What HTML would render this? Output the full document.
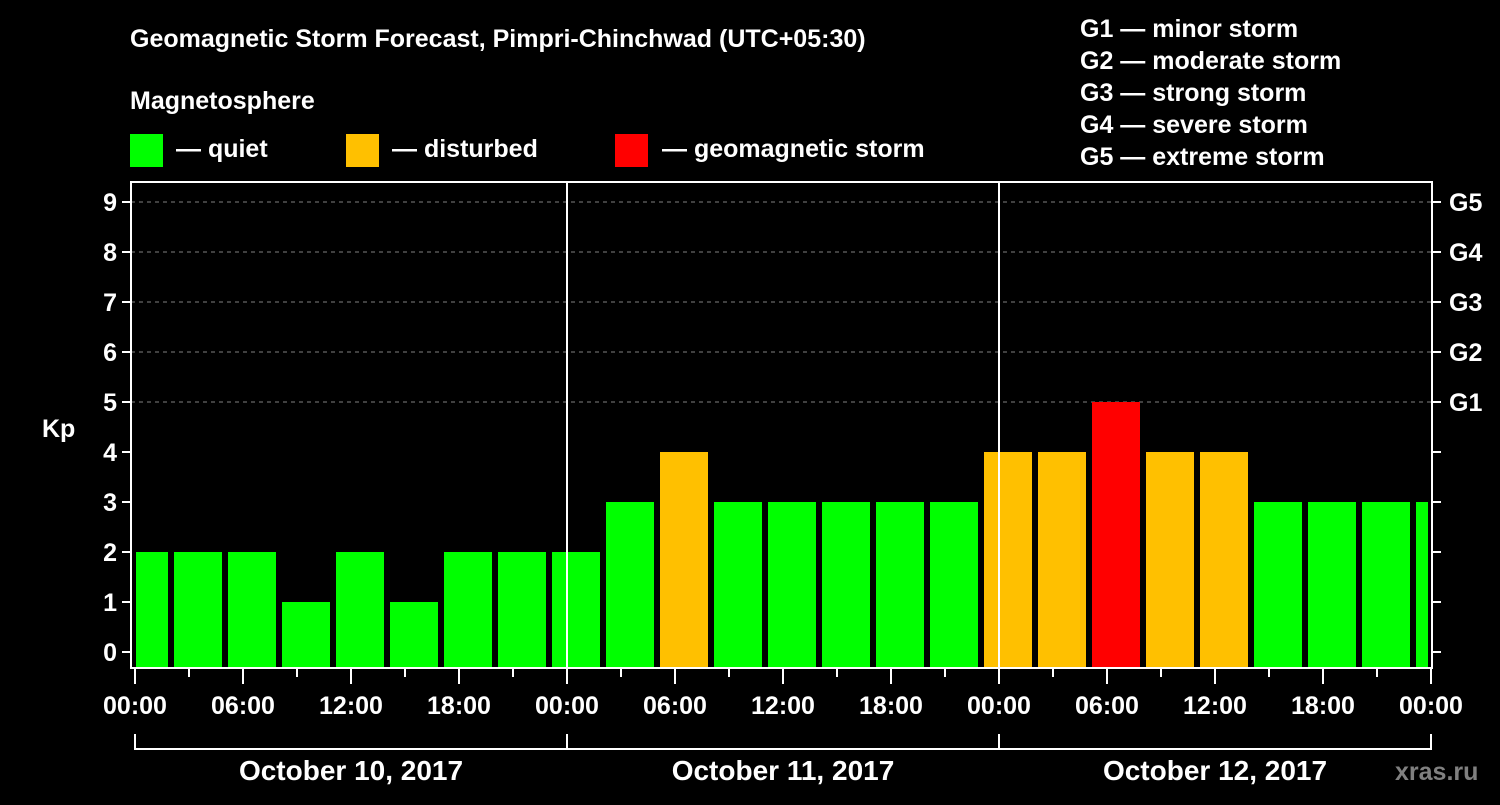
<!DOCTYPE html>
<html><head><meta charset="utf-8"><style>
body{margin:0;background:#000;width:1500px;height:800px;overflow:hidden}
svg{font-family:"Liberation Sans",Arial,sans-serif;font-weight:bold}
</style></head><body>
<svg id="c" width="1500" height="800" xmlns="http://www.w3.org/2000/svg">
<rect width="1500" height="800" fill="#000"/>
<text x="130" y="47" fill="#fff" font-size="25">Geomagnetic Storm Forecast, Pimpri-Chinchwad (UTC+05:30)</text>
<text x="130" y="109" fill="#fff" font-size="25">Magnetosphere</text>
<g><rect x="130" y="134" width="33" height="33" fill="#00ff00"/><text x="176" y="157" fill="#fff" font-size="25">— quiet</text></g>
<g><rect x="346" y="134" width="33" height="33" fill="#ffc000"/><text x="392" y="157" fill="#fff" font-size="25">— disturbed</text></g>
<g><rect x="615" y="134" width="33" height="33" fill="#ff0000"/><text x="662" y="157" fill="#fff" font-size="25">— geomagnetic storm</text></g>
<g fill="#fff" font-size="25">
<text x="1080" y="37">G1 — minor storm</text><text x="1080" y="69">G2 — moderate storm</text><text x="1080" y="101">G3 — strong storm</text><text x="1080" y="133">G4 — severe storm</text><text x="1080" y="165">G5 — extreme storm</text></g>
<text x="42" y="437" fill="#fff" font-size="25">Kp</text>
<text x="1395" y="780" fill="#808080" font-size="25">xras.ru</text>
<g id="plot"></g>
</svg>
<script>
const categories=["-0.5","2.5","5.5","8.5","11.5","14.5","17.5","20.5","23.5","26.5","29.5","32.5","35.5","38.5","41.5","44.5","47.5","50.5","53.5","56.5","59.5","62.5","65.5","68.5","71.5"];
const kpValues=[2,2,2,1,2,1,2,2,2,3,4,3,3,3,3,3,4,4,5,4,4,3,3,3,3];
const yTicks=[0,1,2,3,4,5,6,7,8,9];
const gLabels=["G1","G2","G3","G4","G5"];
const xTickLabels=["00:00","06:00","12:00","18:00","00:00","06:00","12:00","18:00","00:00","06:00","12:00","18:00","00:00"];
const dayLabels=["October 10, 2017","October 11, 2017","October 12, 2017"];
const NS="http://www.w3.org/2000/svg";
const L=131,R=1432,T=182,B=668;
const xs=h=>135+18*h;
const ys=v=>652-50*v;
const g=document.getElementById('plot');
function mk(t,a){const e=document.createElementNS(NS,t);for(const k in a)e.setAttribute(k,a[k]);g.appendChild(e);return e;}
// grid
for(let v=5;v<=9;v++){const e=mk('line',{x1:L,x2:R,y1:ys(v),y2:ys(v),stroke:'#808080','stroke-dasharray':'4,4'});

}
// clip
const cp=mk('clipPath',{id:'cl'});const cr=document.createElementNS(NS,'rect');
cr.setAttribute('x',136);cr.setAttribute('y',T);cr.setAttribute('width',R-136-4);cr.setAttribute('height',B-T);cp.appendChild(cr);
const bg=mk('g',{'clip-path':'url(#cl)'});


categories.forEach((c,i)=>{const v=kpValues[i];const x=xs(parseFloat(c))-6;
const r=document.createElementNS(NS,'rect');
r.setAttribute('x',x);r.setAttribute('y',ys(v));r.setAttribute('width',48);r.setAttribute('height',B-ys(v));
r.setAttribute('fill',v>=5?'#ff0000':v>=4?'#ffc000':'#00ff00');


bg.appendChild(r);});
// day separators
[1,2].forEach(d=>{const e=mk('line',{x1:xs(24*d),x2:xs(24*d),y1:T,y2:B,stroke:'#fff','stroke-width':2});

});
// frame
const fr=mk('rect',{x:L,y:T,width:R-L,height:B-T,fill:'none',stroke:'#fff','stroke-width':2});


// y ticks
yTicks.forEach(v=>{mk('line',{x1:L-9,x2:L,y1:ys(v),y2:ys(v),stroke:'#fff','stroke-width':2});
mk('line',{x1:R,x2:R+9,y1:ys(v),y2:ys(v),stroke:'#fff','stroke-width':2});
const t=mk('text',{x:L-14,y:ys(v)+9,fill:'#fff','font-size':25,'text-anchor':'end'});t.textContent=v;

});
gLabels.forEach((s,i)=>{const t=mk('text',{x:1449,y:ys(5+i)+9,fill:'#fff','font-size':25});t.textContent=s;

});
// x ticks
for(let h=0;h<=72;h+=3){const big=h%6===0;mk('line',{x1:xs(h),x2:xs(h),y1:B,y2:B+(big?16:9),stroke:'#fff','stroke-width':2});}
xTickLabels.forEach((s,i)=>{const t=mk('text',{x:xs(6*i),y:714,fill:'#fff','font-size':25,'text-anchor':'middle'});t.textContent=s;

});
// bracket
mk('path',{d:`M${xs(0)},734V749H${xs(72)}V734M${xs(24)},734V749M${xs(48)},734V749`,stroke:'#fff','stroke-width':2,fill:'none'});
dayLabels.forEach((s,i)=>{const t=mk('text',{x:xs(24*i+12),y:780,fill:'#fff','font-size':28,'text-anchor':'middle'});t.textContent=s;

});
</script>
</body></html>
